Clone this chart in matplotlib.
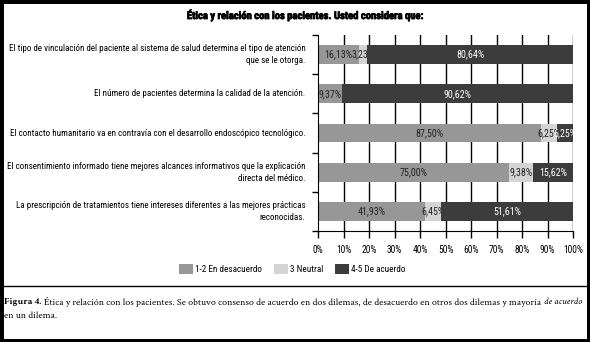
import matplotlib
matplotlib.use("Agg")
import matplotlib.pyplot as plt
from matplotlib import font_manager
from matplotlib import patheffects
from matplotlib.lines import Line2D
from matplotlib.patches import Rectangle
import numpy as np

installed = set(f.name for f in font_manager.fontManager.ttflist)


def pick(options):
    for o in options:
        if o in installed:
            return o
    return options[-1]


narrow = pick(['Liberation Sans Narrow', 'Roboto Condensed', 'Archivo Narrow', 'Asap Condensed', 'DejaVu Sans'])
serif = pick(['Crimson Text', 'Crimson Pro', 'EB Garamond', 'Liberation Serif'])
plt.rcParams['font.family'] = [narrow, 'DejaVu Sans']

categories = [
    "El tipo de vinculación del paciente al sistema de salud determina el tipo de atención\nque se le otorga.",
    "El número de pacientes determina la calidad de la atención.",
    "El contacto humanitario va en contravía con el desarrollo endoscópico tecnológico.",
    "El consentimiento informado tiene mejores alcances informativos que la explicación\ndirecta del médico.",
    "La prescripción de tratamientos tiene intereses diferentes a las mejores prácticas\nreconocidas.",
]
desacuerdo = [16.13, 9.37, 87.50, 75.00, 41.93]
neutral = [3.23, 0.0, 6.25, 9.38, 6.45]
acuerdo = [80.64, 90.62, 6.25, 15.62, 51.61]
series_names = ["1-2 En desacuerdo", "3 Neutral", "4-5 De acuerdo"]
colors = ["#979797", "#d4d4d4", "#3c3c3c"]
text_colors = ["#222222", "#222222", "white"]

fig = plt.figure(figsize=(5.9, 3.42), dpi=100)
renderer = fig.canvas.get_renderer()


def fit(t, width_px):
    # scale the font so the text is width_px wide
    w = t.get_window_extent(renderer).width
    t.set_fontsize(t.get_fontsize() * width_px / w)


def fitted_size(s, width_px, **kw):
    t = fig.text(0, 0, s, fontsize=10, **kw)
    fit(t, width_px)
    size = t.get_fontsize()
    t.remove()
    return size


ax = fig.add_axes([318 / 590, 1 - 231 / 342, 255 / 590, 196 / 342])

val_size = fitted_size("80,64%", 28)
y = np.arange(len(categories))
left = np.zeros(len(categories))
for i, vals in enumerate([desacuerdo, neutral, acuerdo]):
    vals = np.array(vals)
    ax.barh(y, vals, left=left, height=0.48, color=colors[i], zorder=2 * i + 2,
            label=series_names[i])
    for k in range(len(y)):
        if vals[k] > 0:
            lbl = ("%.2f%%" % vals[k]).replace(".", ",")
            ax.text(left[k] + vals[k] / 2, y[k], lbl, ha="center", va="center",
                    fontsize=val_size, color=text_colors[i], zorder=2 * i + 3, clip_on=False)
    left = left + vals

ax.set_xlim(0, 100)
ax.set_ylim(len(categories) - 0.5, -0.5)
ax.set_xticks(np.arange(0, 101, 10))
ax.set_xticklabels(["%d%%" % v for v in range(0, 101, 10)], fontsize=val_size * 0.95)
ax.set_yticks(np.arange(-0.5, len(categories), 1.0))
ax.set_yticklabels([])
ax.tick_params(axis="y", length=4, width=1, direction="out")
ax.tick_params(axis="x", length=5, width=1, direction="out", pad=5)
for v in range(10, 101, 10):
    ax.axvline(v, color="black", lw=1, zorder=1)
for s in ["top", "right"]:
    ax.spines[s].set_visible(False)

cat_size = fitted_size(categories[0].split("\n")[0], 296)
for k, c in enumerate(categories):
    ax.text(-0.05, y[k], c, transform=ax.get_yaxis_transform(), ha="right", va="center",
            fontsize=cat_size, multialignment="right", linespacing=1.45)

title = fig.text(305 / 590, 1 - 15 / 342, "Ética y relación con los pacientes. Usted considera que:",
                 ha="center", va="center", fontsize=10, fontweight="bold",
                 path_effects=[patheffects.withStroke(linewidth=0.5, foreground="black")])
fit(title, 237)

leg_size = fitted_size(series_names[0], 66)
em = leg_size * 100 / 72
fig.legend(loc="center", bbox_to_anchor=(292 / 590, 1 - 269 / 342), ncol=3, frameon=False,
           fontsize=leg_size, handlelength=14 / em, handleheight=12 / em, columnspacing=12 / em,
           handletextpad=2 / em, borderpad=0)

# frame
fig.add_artist(Rectangle((0, 0), 1, 1, transform=fig.transFigure, fill=False, lw=5, ec="black"))
fig.add_artist(Line2D([0, 1], [1 - 286 / 342, 1 - 286 / 342], transform=fig.transFigure,
                      color="black", lw=1))

# caption, pieces laid out one after the other
cap_family = [serif, 'DejaVu Serif']
cap_y = 1 - 302 / 342
p1 = fig.text(4 / 590, cap_y, "Figura 4.", fontsize=10, fontweight="bold", family=cap_family, va="center")
p2 = fig.text(0, cap_y, "Ética y relación con los pacientes. Se obtuvo consenso de acuerdo en dos dilemas, "
              "de desacuerdo en otros dos dilemas y mayoría", fontsize=10, family=cap_family, va="center")
p3 = fig.text(0, cap_y, "de acuerdo", fontsize=10, style="italic", family=cap_family, va="center")
gap = 3
total = sum(o.get_window_extent(renderer).width for o in (p1, p2, p3))
cap_size = 10 * (572 - 2 * gap) / total
for o in (p1, p2, p3):
    o.set_fontsize(cap_size)
x = 4
for o in (p1, p2, p3):
    o.set_x(x / 590)
    x += o.get_window_extent(renderer).width + gap
fig.text(4 / 590, 1 - 316 / 342, "en un dilema.", fontsize=cap_size, family=cap_family, va="center")

fig.savefig("out.png", dpi=100)
